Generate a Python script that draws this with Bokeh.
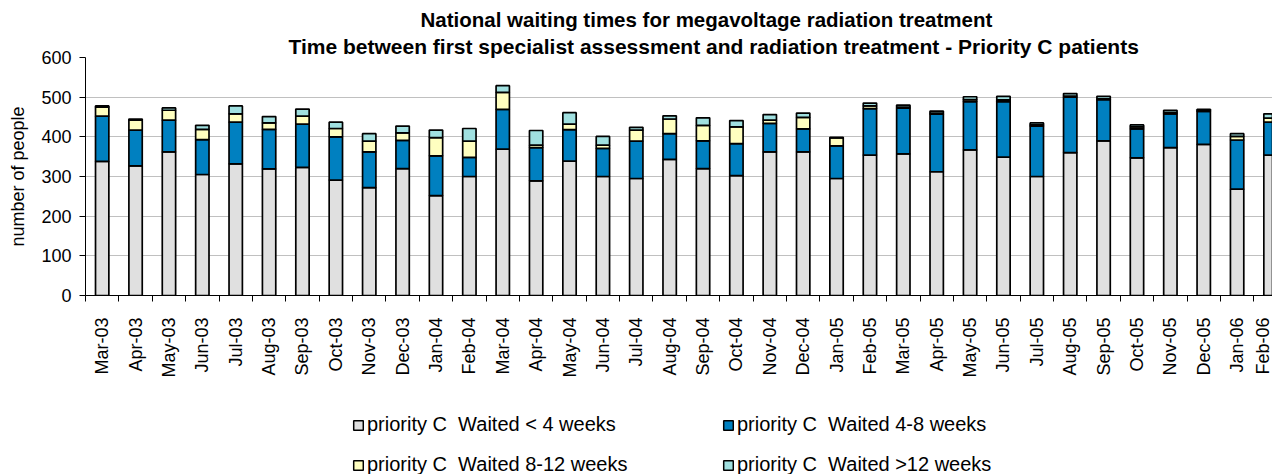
import math
from bokeh.plotting import figure
from bokeh.layouts import column
from bokeh.models import Range1d, FixedTicker, Legend, LegendItem, Title, ColumnDataSource
from bokeh.embed import file_html
from bokeh.resources import INLINE

months = ["Mar-03", "Apr-03", "May-03", "Jun-03", "Jul-03", "Aug-03", "Sep-03", "Oct-03",
          "Nov-03", "Dec-03", "Jan-04", "Feb-04", "Mar-04", "Apr-04", "May-04", "Jun-04",
          "Jul-04", "Aug-04", "Sep-04", "Oct-04", "Nov-04", "Dec-04", "Jan-05", "Feb-05",
          "Mar-05", "Apr-05", "May-05", "Jun-05", "Jul-05", "Aug-05", "Sep-05", "Oct-05",
          "Nov-05", "Dec-05", "Jan-06", "Feb-06"]
under_4 = [338, 327, 362, 305, 332, 319, 323, 291, 272, 320, 252, 300, 369, 289, 339, 300,
           295, 343, 320, 302, 362, 362, 295, 354, 357, 312, 367, 349, 300, 360, 390, 347,
           373, 381, 268, 354]
weeks_4_8 = [114, 90, 80, 88, 105, 100, 109, 109, 90, 71, 100, 48, 100, 84, 79, 71,
             94, 65, 70, 81, 72, 58, 82, 117, 115, 145, 122, 140, 127, 140, 104, 73,
             85, 83, 124, 83]
weeks_8_12 = [23, 25, 25, 26, 21, 16, 20, 21, 27, 19, 46, 41, 43, 6, 14, 8,
              28, 37, 39, 42, 8, 29, 20, 7, 3, 3, 5, 4, 3, 3, 2, 5,
              4, 2, 9, 10]
over_12 = [3, 3, 6, 10, 20, 16, 18, 16, 19, 17, 19, 32, 17, 37, 29, 22,
           7, 8, 19, 16, 14, 11, 2, 7, 5, 5, 7, 9, 5, 6, 6, 5,
           5, 3, 7, 11]
y_ticks = [0, 100, 200, 300, 400, 500, 600]
series_labels = ["priority C  Waited < 4 weeks", "priority C  Waited 4-8 weeks",
                 "priority C  Waited 8-12 weeks", "priority C  Waited >12 weeks"]
title_1 = "National waiting times for megavoltage radiation treatment"
title_2 = "Time between first specialist assessment and radiation treatment - Priority C patients"

FONT = "Liberation Sans"
colors = ["#e0e0e0", "#0080c0", "#ffffc0", "#a0e0e0"]

x = list(range(len(months)))
src = ColumnDataSource(dict(x=x, under_4=under_4, weeks_4_8=weeks_4_8,
                            weeks_8_12=weeks_8_12, over_12=over_12))
stack = ["under_4", "weeks_4_8", "weeks_8_12", "over_12"]

# ---------------- chart ----------------
p = figure(width=1272, height=380, output_backend="svg", toolbar_location=None,
           x_range=Range1d(-0.5, len(months) - 0.94), y_range=Range1d(y_ticks[0], y_ticks[-1]),
           min_border_left=85, min_border_right=0, min_border_top=57, min_border_bottom=83,
           background_fill_color="white", border_fill_color="white")
p.outline_line_color = None

rs = p.vbar_stack(stack, x="x", width=0.4, source=src, fill_color=colors,
                  line_color="black", line_width=1.7)

xa = p.xaxis[0]
xa.ticker = FixedTicker(ticks=x, minor_ticks=[i - 0.5 for i in range(len(months) + 1)])
xa.major_label_overrides = {i: m for i, m in enumerate(months)}
xa.major_label_orientation = math.pi / 2
xa.major_tick_out = 0
xa.major_tick_in = 0
xa.minor_tick_out = 6
xa.minor_tick_in = 0
xa.minor_tick_line_color = "black"
xa.axis_line_color = "black"
xa.major_label_standoff = 16
xa.major_label_text_font = FONT
xa.major_label_text_font_size = "18px"
xa.major_label_text_color = "black"

ya = p.yaxis[0]
ya.ticker = FixedTicker(ticks=y_ticks)
ya.major_tick_out = 6
ya.major_tick_in = 0
ya.minor_tick_out = 0
ya.minor_tick_in = 0
ya.axis_line_color = "black"
ya.major_tick_line_color = "black"
ya.major_label_standoff = 8
ya.major_label_text_font = FONT
ya.major_label_text_font_size = "18px"
ya.major_label_text_color = "black"
ya.axis_label = "number of people"
ya.axis_label_text_font = FONT
ya.axis_label_text_font_size = "18px"
ya.axis_label_text_font_style = "normal"
ya.axis_label_text_color = "black"
ya.axis_label_standoff = 10

p.xgrid.visible = False
p.ygrid.ticker = FixedTicker(ticks=y_ticks[1:-1])
p.ygrid.grid_line_color = "#c0c0c0"
p.ygrid.grid_line_width = 1

p.add_layout(Title(text=title_2, align="left", offset=203, standoff=0,
                   text_font=FONT, text_font_size="21px", text_font_style="bold",
                   text_color="black"), "above")
p.add_layout(Title(text=title_1, align="left", offset=335, standoff=3,
                   text_font=FONT, text_font_size="20.5px", text_font_style="bold",
                   text_color="black"), "above")

# ---------------- legend strip ----------------
# hidden key renderers (same data and styles) give the legend its swatches
pl = figure(width=1272, height=94, output_backend="svg", toolbar_location=None,
            x_axis_location=None, y_axis_location=None,
            x_range=Range1d(-0.5, len(months) - 0.94), y_range=Range1d(10000, 20000),
            min_border_left=0, min_border_right=0, min_border_top=0, min_border_bottom=0,
            background_fill_color="white", border_fill_color="white")
pl.outline_line_color = None
pl.xgrid.visible = False
pl.ygrid.visible = False
key_renderers = [pl.vbar(x="x", top=col, width=0.4, source=src, fill_color=c,
                         line_color="black", line_width=1.5, visible=False)
                 for col, c in zip(stack, colors)]

legend = Legend(items=[LegendItem(label=lab, renderers=[r])
                       for lab, r in zip(series_labels, key_renderers)],
                ncols=2, orientation="horizontal", location=(267, -2), margin=0, padding=0,
                spacing=17, glyph_width=12, glyph_height=12, label_standoff=3,
                label_width=338, label_height=23,
                label_text_font=FONT, label_text_font_size="20px", label_text_color="black",
                inactive_fill_alpha=0,
                border_line_color=None, background_fill_alpha=0)
pl.add_layout(legend, "center")

layout = column(p, pl, spacing=0)
open("out.html", "w").write(file_html(layout, INLINE))
